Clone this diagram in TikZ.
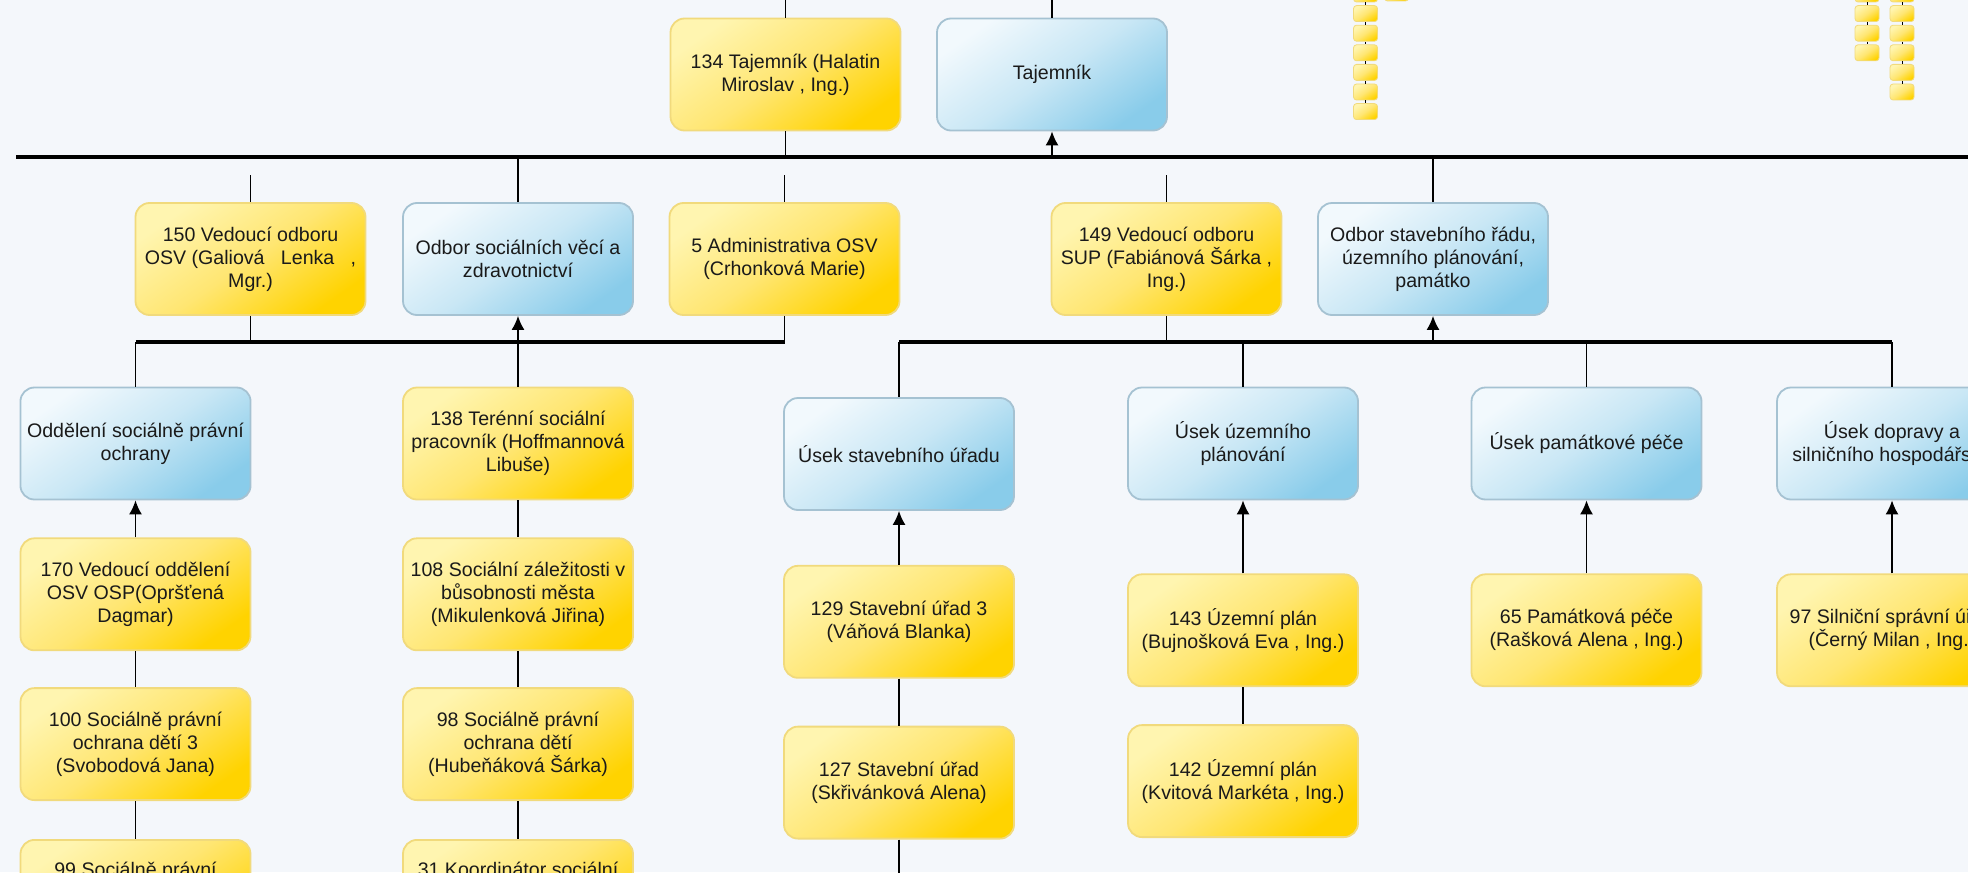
\documentclass[tikz,border=0pt]{standalone}
\usepackage{fontspec}
\setmainfont{Liberation Sans}
\usepackage{tikz}
\usetikzlibrary{arrows.meta, positioning}
\definecolor{canvas}{HTML}{F4F7FB}
\definecolor{inktext}{HTML}{1A1A1A}
\definecolor{persontop}{HTML}{FFF5B0}
\definecolor{personmid}{HTML}{FFE672}
\definecolor{personbottom}{HTML}{FFD300}
\definecolor{personedge}{HTML}{F1DA7C}
\definecolor{unittop}{HTML}{F2F9FD}
\definecolor{unitmid}{HTML}{C9E7F5}
\definecolor{unitbottom}{HTML}{89CCEA}
\definecolor{unitedge}{HTML}{A5C2D2}
\tikzstyle{person} = [rectangle, rounded corners=7pt, draw=personedge, line width=0.9pt, top color=persontop, bottom color=personbottom, middle color=personmid, shading angle=35, minimum width=115pt, minimum height=56pt, align=center, text=inktext, font=\fontsize{9.8}{11.5}\selectfont]
\tikzstyle{unit} = [person, draw=unitedge, top color=unittop, bottom color=unitbottom, middle color=unitmid, shading angle=35]
\tikzstyle{thumb} = [rectangle, rounded corners=1.5pt, draw=personedge, line width=0.4pt, top color=persontop, bottom color=personbottom, middle color=personmid, shading angle=35, minimum width=12pt, minimum height=8pt, inner sep=0pt]
\tikzstyle{link} = [draw, line width=0.8pt]
\tikzstyle{thinlink} = [draw, line width=0.5pt]
\tikzstyle{line} = [draw, line width=0.8pt, -{Latex[length=7pt, width=6.5pt]}]
\tikzstyle{bus} = [draw, line width=1.8pt]

\begin{document}
\begin{tikzpicture}[x=0.5pt, y=-0.5pt]
    \clip (0,0) rectangle (1968,872);
    \fill [canvas] (0,0) rectangle (1968,872);

    % Tajemnik
    \node [person] (tajemnik134) at (785.5,74.5) {134 Tajemník (Halatin\\Miroslav , Ing.)};
    \node [unit] (tajemnik) at (1052,74.5) {Tajemník};
    \coordinate (top134) at (785.5,0);
    \coordinate (topTaj) at (1052,0);
    \coordinate (busL) at (16,157);
    \coordinate (busR) at (1968,157);

    \path [bus] (busL) -- (busR);
    \path [link] (top134) -- (tajemnik134);
    \path [link] (topTaj) -- (tajemnik);
    \path [link] (tajemnik134) -- (tajemnik134 |- busL);
    \path [line] (tajemnik |- busL) -- (tajemnik);

    % odbory
    \node [person] (vedouci150) at (250.5,259) {150 Vedoucí odboru\\OSV (Galiová\ \ \ Lenka\ \ \ ,\\Mgr.)};
    \node [unit] (odborOSV) at (518,259) {Odbor sociálních věcí a\\zdravotnictví};
    \node [person] (admin5) at (784.5,259) {5 Administrativa OSV\\(Crhonková Marie)};
    \node [person] (vedouci149) at (1166.5,259) {149 Vedoucí odboru\\SUP (Fabiánová Šárka ,\\Ing.)};
    \node [unit] (odborSUP) at (1433,259) {Odbor stavebního řádu,\\územního plánování,\\památko};

    \coordinate (stub150) at (250.5,175);
    \coordinate (stub5) at (784.5,175);
    \coordinate (stub149) at (1166.5,175);
    \path [link] (stub150) -- (vedouci150);
    \path [link] (stub5) -- (admin5);
    \path [link] (stub149) -- (vedouci149);
    \path [link] (odborOSV) -- (odborOSV |- busL);
    \path [link] (odborSUP) -- (odborSUP |- busL);

    % OSV
    \coordinate (osvL) at (135.5,342);
    \coordinate (osvR) at (784.5,342);
    \node [unit] (oddeleniOSP) at (135.5,443.5) {Oddělení sociálně právní\\ochrany};
    \node [person] (terenni138) at (518,443.5) {138 Terénní sociální\\pracovník (Hoffmannová\\Libuše)};

    \path [bus] (osvL) -- (osvR);
    \path [link] (vedouci150) -- (vedouci150 |- osvL);
    \path [link] (admin5) -- (admin5 |- osvL);
    \path [line] (odborOSV |- osvL) -- (odborOSV);
    \path [link] (osvL) -- (oddeleniOSP);
    \path [link] (odborOSV |- osvL) -- (terenni138);

    \node [person, below=18.5pt of oddeleniOSP] (ved170) {170 Vedoucí oddělení\\OSV OSP(Opršťená\\Dagmar)};
    \node [person, below=18pt of ved170] (ospod100) {100 Sociálně právní\\ochrana dětí 3\\(Svobodová Jana)};
    \node [person, below=19pt of ospod100] (ospod99) {99 Sociálně právní\\\strut\\\strut};
    \path [line] (ved170) -- (oddeleniOSP);
    \path [link] (ved170) -- (ospod100);
    \path [link] (ospod100) -- (ospod99);

    \node [person, below=18.5pt of terenni138] (soc108) {108 Sociální záležitosti v\\bůsobnosti města\\(Mikulenková Jiřina)};
    \node [person, below=18pt of soc108] (ospod98) {98 Sociálně právní\\ochrana dětí\\(Hubeňáková Šárka)};
    \node [person, below=19pt of ospod98] (koord31) {31 Koordinátor sociální\\\strut\\\strut};
    \path [link] (terenni138) -- (soc108);
    \path [link] (soc108) -- (ospod98);
    \path [link] (ospod98) -- (koord31);

    % SUP
    \coordinate (supL) at (899,342);
    \coordinate (supR) at (1892,342);
    \node [unit] (usekSU) at (899,454) {Úsek stavebního úřadu};
    \node [unit] (usekUP) at (1243,443.5) {Úsek územního\\plánování};
    \node [unit] (usekPP) at (1586.5,443.5) {Úsek památkové péče};
    \node [unit] (usekDSH) at (1892,443.5) {Úsek dopravy a\\silničního hospodářství};

    \path [bus] (supL) -- (supR);
    \path [link] (vedouci149) -- (vedouci149 |- supL);
    \path [line] (odborSUP |- supL) -- (odborSUP);
    \path [link] (supL) -- (usekSU);
    \path [link] (usekUP |- supL) -- (usekUP);
    \path [link] (usekPP |- supL) -- (usekPP);
    \path [link] (supR) -- (usekDSH);

    \node [person, below=27pt of usekSU] (su129) {129 Stavební úřad 3\\(Váňová Blanka)};
    \node [person, below=23.5pt of su129] (su127) {127 Stavební úřad\\(Skřivánková Alena)};
    \node [person, below=17.5pt of su127] (suNext) {};
    \path [line] (su129) -- (usekSU);
    \path [link] (su129) -- (su127);
    \path [link] (su127) -- (suNext);

    \node [person, below=36.5pt of usekUP] (up143) {143 Územní plán\\(Bujnošková Eva , Ing.)};
    \node [person, below=18.5pt of up143] (up142) {142 Územní plán\\(Kvitová Markéta , Ing.)};
    \path [line] (up143) -- (usekUP);
    \path [link] (up143) -- (up142);

    \node [person, below=36.5pt of usekPP] (pp65) {65 Památková péče\\(Rašková Alena , Ing.)};
    \path [line] (pp65) -- (usekPP);

    \node [person, below=36.5pt of usekDSH] (dsh97) {97 Silniční správní úřad\\(Černý Milan , Ing.)};
    \path [line] (dsh97) -- (usekDSH);

    % small boxes top right
    \node [thumb] (thumbA0) at (1365.5,-6) {};
    \node [thumb, below=1.4pt of thumbA0] (thumbA1) {};
    \node [thumb, below=1.4pt of thumbA1] (thumbA2) {};
    \node [thumb, below=1.4pt of thumbA2] (thumbA3) {};
    \node [thumb, below=1.4pt of thumbA3] (thumbA4) {};
    \node [thumb, below=1.4pt of thumbA4] (thumbA5) {};
    \node [thumb, below=1.4pt of thumbA5] (thumbA6) {};
    \node [thumb] (thumbA7) at (1396.5,-7) {};
    \draw [thinlink] (thumbA0) edge (thumbA1) (thumbA1) edge (thumbA2) (thumbA2) edge (thumbA3)
        (thumbA3) edge (thumbA4) (thumbA4) edge (thumbA5) (thumbA5) edge (thumbA6);

    \node [thumb] (thumbB0) at (1867,-6) {};
    \node [thumb, below=1.4pt of thumbB0] (thumbB1) {};
    \node [thumb, below=1.4pt of thumbB1] (thumbB2) {};
    \node [thumb, below=1.4pt of thumbB2] (thumbB3) {};
    \draw [thinlink] (thumbB0) edge (thumbB1) (thumbB1) edge (thumbB2) (thumbB2) edge (thumbB3);

    \node [thumb] (thumbC0) at (1902,-6) {};
    \node [thumb, below=1.4pt of thumbC0] (thumbC1) {};
    \node [thumb, below=1.4pt of thumbC1] (thumbC2) {};
    \node [thumb, below=1.4pt of thumbC2] (thumbC3) {};
    \node [thumb, below=1.4pt of thumbC3] (thumbC4) {};
    \node [thumb, below=1.4pt of thumbC4] (thumbC5) {};
    \draw [thinlink] (thumbC0) edge (thumbC1) (thumbC1) edge (thumbC2) (thumbC2) edge (thumbC3)
        (thumbC3) edge (thumbC4) (thumbC4) edge (thumbC5);
\end{tikzpicture}
\end{document}
